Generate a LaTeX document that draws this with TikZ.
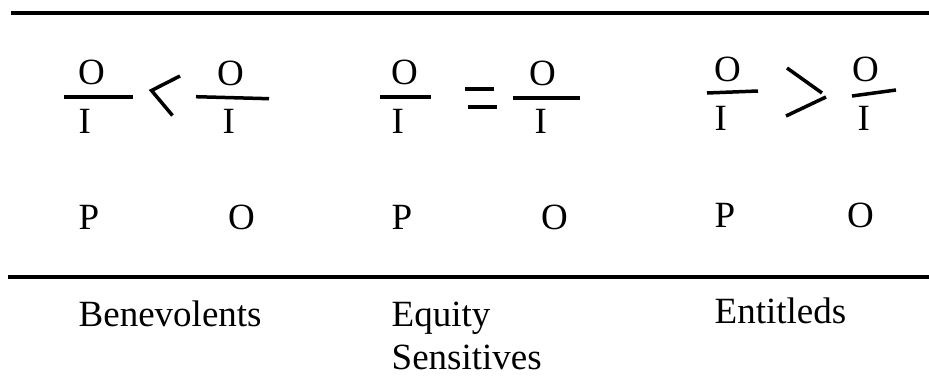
\documentclass[tikz,border=0pt]{standalone}
\usepackage{fontspec}
\setmainfont{Liberation Serif}
\begin{document}
\begin{tikzpicture}[x=1pt,y=-1pt,
  lbl/.style={anchor=base west,inner sep=0pt,font=\fontsize{37}{44}\selectfont},
  rulebar/.style={line width=3.5pt},
  fracbar/.style={line width=3.5pt},
  relsym/.style={line width=3.5pt}]
\useasboundingbox (0,0) rectangle (929,375);
% rules
\coordinate (t1) at (11,13); \coordinate (t2) at (929,13);
\coordinate (b1) at (8,277); \coordinate (b2) at (929,277);
\draw[rulebar] (t1) -- (t2);
\draw[rulebar] (b1) -- (b2);
% group 1: O/I < O/I
\node[lbl] (o11) at (78,84) {O};
\node[lbl] (i11) at (78.5,133) {I};
\draw[fracbar] (64,97) -- (133,97);
\draw[relsym] (180,76) -- (151.5,90.5) -- (172.5,115.5);
\node[lbl] (o12) at (217,85) {O};
\node[lbl] (i12) at (222.5,133) {I};
\draw[fracbar] (196,96.7) -- (269,98.7);
% group 2: O/I = O/I
\node[lbl] (o21) at (391,84) {O};
\node[lbl] (i21) at (391.5,133) {I};
\draw[fracbar] (380,97) -- (431,97);
\draw[relsym] (465,89) -- (494,89);
\draw[relsym] (468,107) -- (497,107);
\node[lbl] (o22) at (529,85) {O};
\node[lbl] (i22) at (534.5,133) {I};
\draw[fracbar] (513,98) -- (580,98);
% group 3: O/I > O/I
\node[lbl] (o31) at (714,81) {O};
\node[lbl] (i31) at (714.5,130) {I};
\draw[fracbar] (707,93) -- (758,91);
\draw[relsym] (787,68) -- (822,93);
\draw[relsym] (786,116) -- (826,97);
\node[lbl] (o32) at (852,81) {O};
\node[lbl] (i32) at (857.5,130) {I};
\draw[fracbar] (852,96) -- (896,90);
% P O row
\node[lbl] (p1) at (78.5,229) {P};
\node[lbl] (q1) at (228,229) {O};
\node[lbl] (p2) at (391.5,229) {P};
\node[lbl] (q2) at (541,229) {O};
\node[lbl] (p3) at (714.5,227) {P};
\node[lbl] (q3) at (847,227) {O};
% names
\node[lbl] (n1) at (78.5,326) {Benevolents};
\node[lbl] (n2a) at (391.5,326) {Equity};
\node[lbl] (n2b) at (391.5,369.5) {Sensitives};
\node[lbl] (n3) at (714.5,323) {Entitleds};
\end{tikzpicture}
\end{document}
